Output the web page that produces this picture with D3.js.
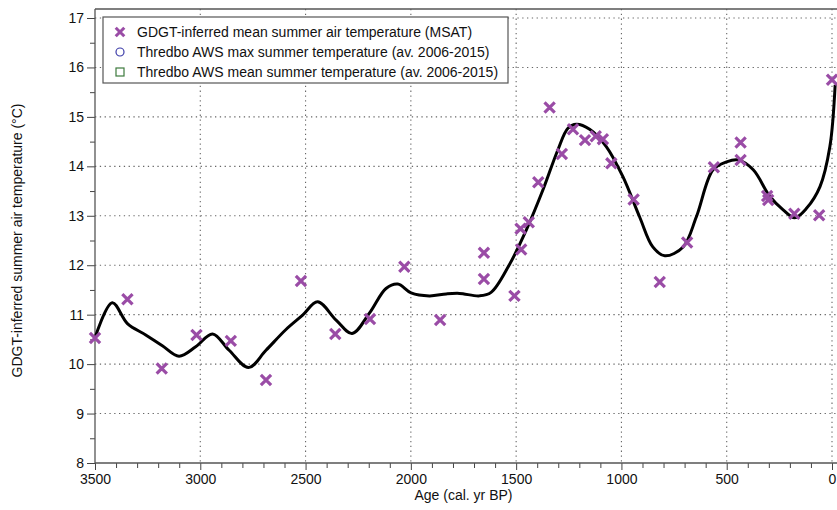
<!DOCTYPE html>
<html>
<head>
<meta charset="utf-8">
<script src="https://cdn.jsdelivr.net/npm/d3@7"></script>
<style>
  body { margin: 0; background: #fff; }
  text { font-family: "Liberation Sans", Arial, sans-serif; }
</style>
</head>
<body>
<svg id="chart" width="837" height="510"></svg>
<script>
// GDGT-inferred MSAT samples (age in cal. yr BP, temperature in degC)
const msatAge = [3500, 3346, 3183, 3018, 2855, 2688, 2522, 2359, 2194, 2031, 1861,
  1653, 1653, 1508, 1476, 1479, 1440, 1395, 1341, 1283, 1230, 1173, 1122, 1088, 1048,
  942, 818, 688, 561, 434, 434, 308, 303, 179, 61, 0];
const msatTemp = [10.53, 11.31, 9.91, 10.59, 10.47, 9.68, 11.68, 10.61, 10.91, 11.97, 10.89,
  12.25, 11.72, 11.38, 12.32, 12.74, 12.87, 13.68, 15.19, 14.25, 14.75, 14.53, 14.61, 14.55, 14.06,
  13.33, 11.66, 12.46, 13.98, 14.48, 14.13, 13.40, 13.32, 13.04, 13.01, 15.75];

// smoothed fit through the record
const fitAge = [3500, 3418, 3346, 3259, 3180, 3101, 3022, 2942, 2863, 2771, 2688, 2593,
  2514, 2443, 2355, 2279, 2197, 2118, 2062, 1999, 1912, 1832, 1769, 1674, 1619, 1531,
  1452, 1373, 1302, 1254, 1214, 1151, 1072, 993, 914, 851, 794, 707, 644, 565, 501,
  446, 374, 295, 232, 177, 121, 57, 10, -15];
const fitTemp = [10.53, 11.24, 10.82, 10.59, 10.37, 10.16, 10.35, 10.61, 10.28, 9.93, 10.28, 10.70,
  10.99, 11.26, 10.89, 10.62, 11.03, 11.53, 11.62, 11.44, 11.38, 11.42, 11.43, 11.38, 11.45, 12.02,
  12.71, 13.52, 14.33, 14.77, 14.85, 14.75, 14.40, 13.79, 12.98, 12.37, 12.19, 12.37, 12.98, 13.93, 14.09,
  14.13, 13.93, 13.39, 13.12, 12.96, 13.15, 13.59, 14.40, 15.65];

const xMajor = [3500, 3000, 2500, 2000, 1500, 1000, 500, 0];
const yMajor = [8, 9, 10, 11, 12, 13, 14, 15, 16, 17];

const legendLabels = [
  'GDGT-inferred mean summer air temperature (MSAT)',
  'Thredbo AWS max summer temperature (av. 2006-2015)',
  'Thredbo AWS mean summer temperature (av. 2006-2015)'
];

const purple = '#9a4ca6';

let svg = d3.select('#chart');

let m_left = 95, m_right = 832, m_top = 9, m_bottom = 463;

let x = d3.scaleLinear().domain([3500, 0]).range([m_left, m_right]);
let y = d3.scaleLinear().domain([8, 17]).range([m_bottom, 18]);

/*
 * Grid.
 */
let grid = svg.append('g');
grid.selectAll('line.gx')
  .data(xMajor.slice(1))
  .enter().append('line')
  .attr('x1', d => x(d)).attr('x2', d => x(d))
  .attr('y1', m_top).attr('y2', m_bottom)
  .style('stroke', '#666')
  .style('stroke-width', 1.1)
  .style('stroke-dasharray', '1.3,3.5');
grid.selectAll('line.gy')
  .data(yMajor.slice(1))
  .enter().append('line')
  .attr('x1', m_left).attr('x2', 837)
  .attr('y1', d => y(d)).attr('y2', d => y(d))
  .style('stroke', '#666')
  .style('stroke-width', 1.1)
  .style('stroke-dasharray', '1.3,3.5');

/*
 * Axes.
 */
let xAxis = d3.axisBottom(x)
  .tickValues(d3.range(3500, -1, -100))
  .tickSize(5)
  .tickFormat(d => xMajor.includes(d) ? d : '');
let gx = svg.append('g').attr('transform', `translate(0,${m_bottom})`).call(xAxis);
gx.select('.domain').remove();
gx.selectAll('.tick line')
  .attr('y2', d => xMajor.includes(d) ? 7 : 5)
  .style('stroke', '#444');
gx.selectAll('.tick text')
  .attr('y', 11)
  .style('font-size', '14px')
  .style('fill', '#111');
svg.append('line')
  .attr('x1', m_left).attr('x2', 837)
  .attr('y1', m_bottom).attr('y2', m_bottom)
  .style('stroke', '#555').style('stroke-width', 1.3);

let yAxis = d3.axisLeft(y)
  .tickValues(d3.range(8, 17.01, 0.5))
  .tickSize(5)
  .tickFormat(d => Number.isInteger(d) ? d : '');
let gy = svg.append('g').attr('transform', `translate(${m_left},0)`).call(yAxis);
gy.select('.domain').remove();
gy.selectAll('.tick line')
  .attr('x2', d => Number.isInteger(d) ? -8 : -5)
  .style('stroke', '#444');
gy.selectAll('.tick text')
  .attr('x', -11)
  .style('font-size', '14px')
  .style('fill', '#111');
svg.append('line')
  .attr('x1', m_left).attr('x2', m_left)
  .attr('y1', m_top).attr('y2', m_bottom)
  .style('stroke', '#555').style('stroke-width', 1.3);
svg.append('line')
  .attr('x1', m_left).attr('x2', 837)
  .attr('y1', m_top).attr('y2', m_top)
  .style('stroke', '#555').style('stroke-width', 1.3);

svg.append('text')
  .attr('x', (m_left + m_right) / 2)
  .attr('y', 500)
  .attr('text-anchor', 'middle')
  .style('font-size', '14px')
  .style('fill', '#111')
  .text('Age (cal. yr BP)');

svg.append('text')
  .attr('transform', `translate(22,${(m_bottom + 18) / 2}) rotate(-90)`)
  .attr('text-anchor', 'middle')
  .style('font-size', '14px')
  .style('fill', '#111')
  .text('GDGT-inferred summer air temperature (°C)');

/*
 * Fit line and samples.
 */
let fit = d3.range(fitAge.length).map(i => [fitAge[i], fitTemp[i]]);
svg.append('path')
  .datum(fit)
  .attr('d', d3.line().x(d => x(d[0])).y(d => y(d[1])).curve(d3.curveCatmullRom))
  .style('fill', 'none')
  .style('stroke', '#000')
  .style('stroke-width', 3);

let cross = d3.symbol(d3.symbolX, 70);
let pts = d3.range(msatAge.length).map(i => [msatAge[i], msatTemp[i]]);
svg.selectAll('path.msat')
  .data(pts)
  .enter().append('path')
  .attr('class', 'msat')
  .attr('transform', d => `translate(${x(d[0])},${y(d[1])})`)
  .attr('d', cross)
  .style('fill', 'none')
  .style('stroke', purple)
  .style('stroke-width', 3.2);

/*
 * Legend.
 */
let lg = svg.append('g').attr('transform', 'translate(103,17)');
lg.append('rect')
  .attr('width', 405).attr('height', 66)
  .style('fill', '#fff')
  .style('stroke', '#555')
  .style('stroke-width', 1.2);
legendLabels.forEach((label, i) => {
  let cy = 15 + i * 20;
  if (i == 0) {
    lg.append('path')
      .attr('transform', `translate(17,${cy})`)
      .attr('d', d3.symbol(d3.symbolX, 50))
      .style('fill', 'none').style('stroke', purple).style('stroke-width', 3);
  } else if (i == 1) {
    lg.append('circle')
      .attr('cx', 17).attr('cy', cy).attr('r', 4)
      .style('fill', 'none').style('stroke', '#3b3ba8').style('stroke-width', 1.2);
  } else {
    lg.append('rect')
      .attr('x', 13).attr('y', cy - 4).attr('width', 8).attr('height', 8)
      .style('fill', 'none').style('stroke', '#3d7a3d').style('stroke-width', 1.2);
  }
  lg.append('text')
    .attr('x', 34).attr('y', cy)
    .attr('dy', '0.35em')
    .style('font-size', '14px')
    .style('fill', '#111')
    .text(label);
});
</script>
</body>
</html>
